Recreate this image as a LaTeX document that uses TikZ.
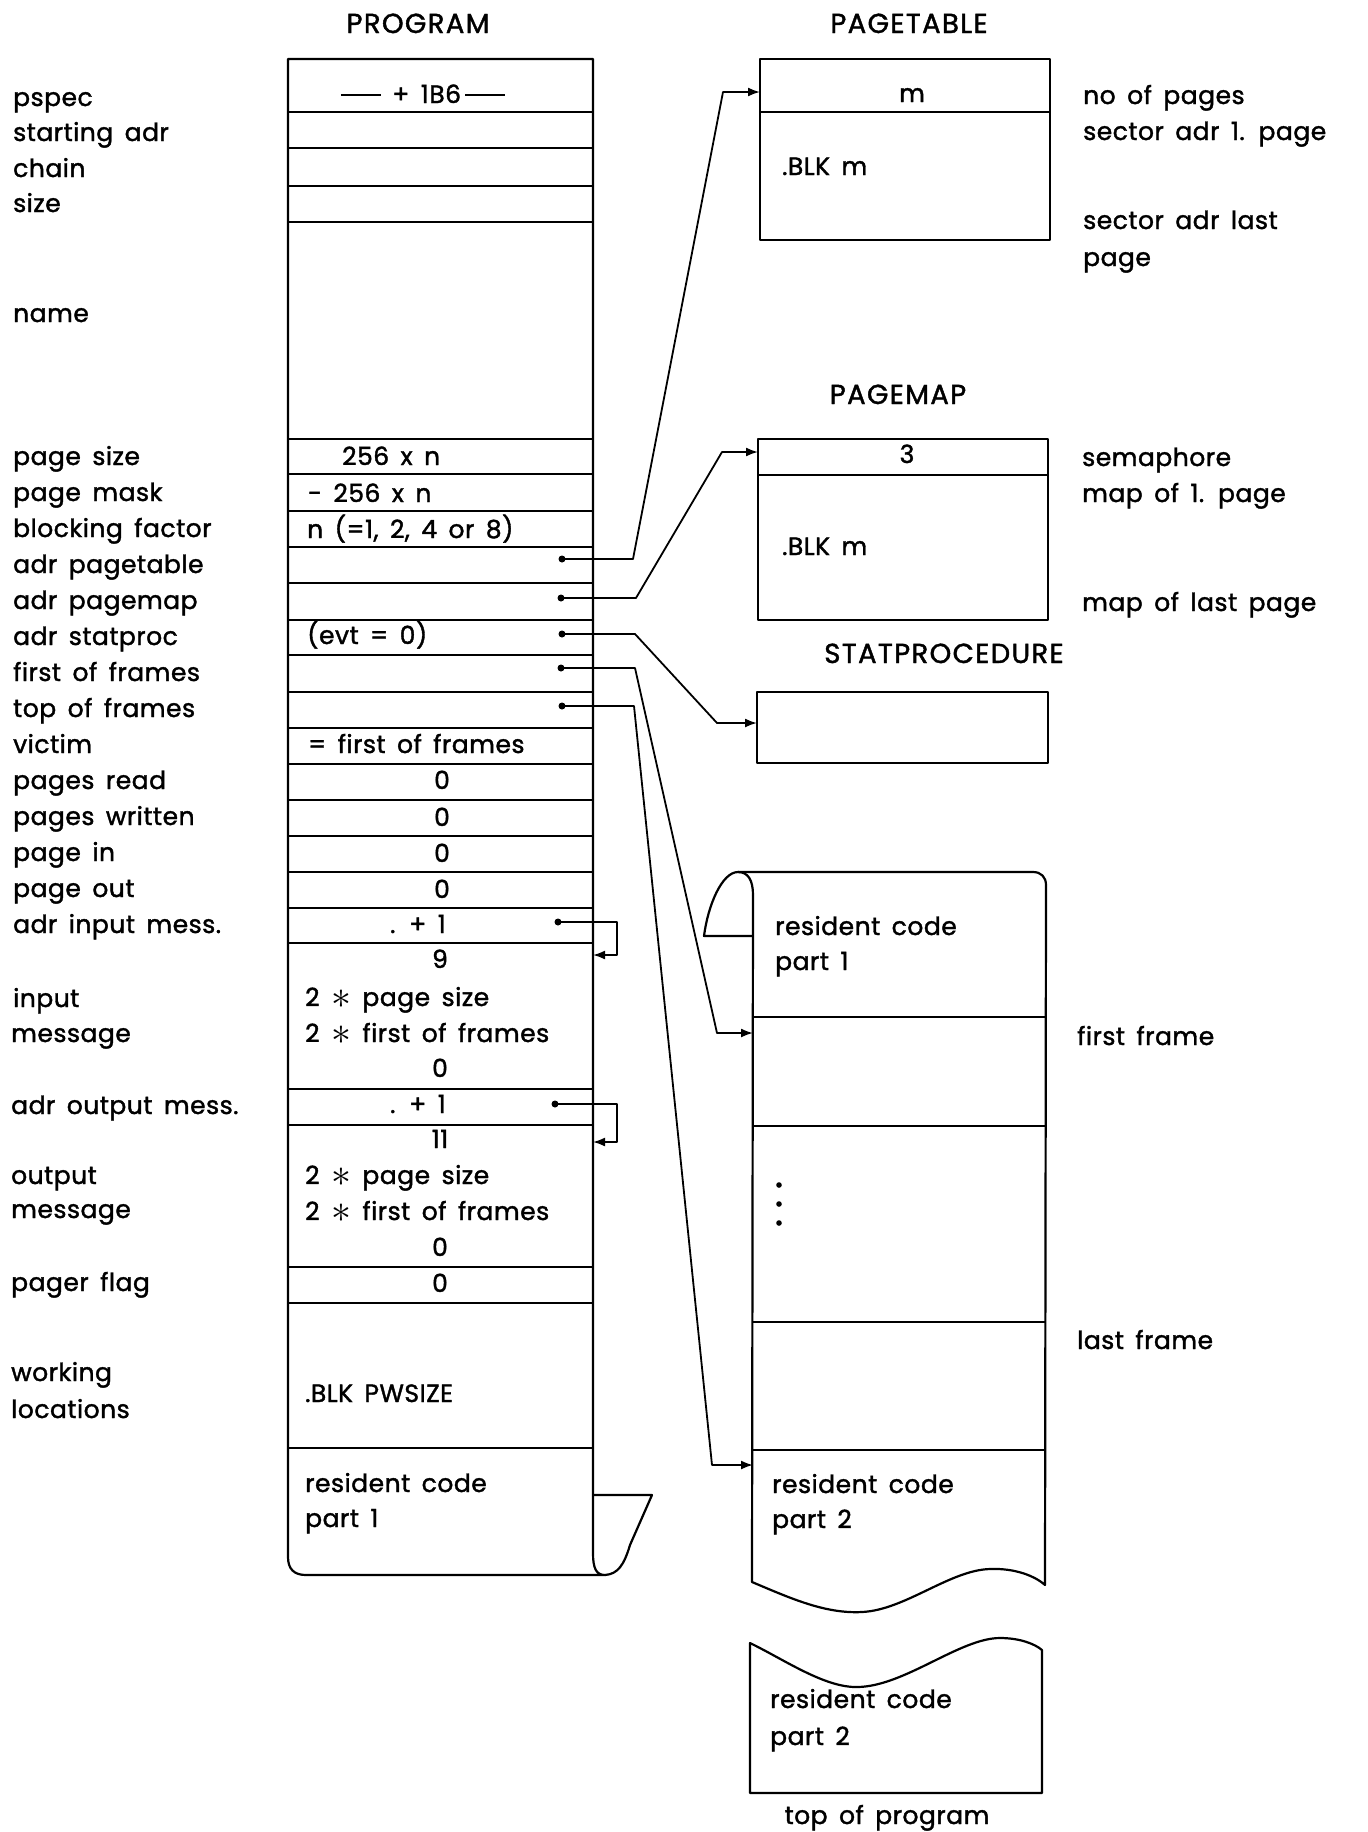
\documentclass[tikz,border=0pt]{standalone}
\usepackage{fontspec}
\usepackage{graphicx}
\setmainfont{Poppins}[WordSpace=1.6,LetterSpace=2,FakeBold=1.5]
\usetikzlibrary{arrows.meta,calc}
\newcommand\fs{\fontsize{25}{30}\selectfont}
\newcommand\hfs{\fontsize{27.5}{32}\selectfont\addfontfeature{LetterSpace=5}}
\newcommand\dashrule{\rule[0.3em]{40pt}{1.8pt}}
\newcommand\bigast{\smash{\raisebox{-2pt}{\scalebox{1.6}{$\ast$}}}}
\begin{document}
\begin{tikzpicture}[x=1pt,y=-1pt,
  ln/.style={line width=2.2pt, line join=round},
  rowline/.style={line width=1.9pt},
  lbl/.style={anchor=base west, inner sep=0pt, font=\fs},
  ctr/.style={anchor=base, inner sep=0pt, font=\fs},
  hdr/.style={anchor=base, inner sep=0pt, font=\hfs},
  dotnode/.style={circle, fill, inner sep=0pt, minimum size=7pt},
  conn/.style={line width=1.8pt, line join=round, -{Latex[length=12pt,width=9pt]}},
  selfconn/.style={line width=1.8pt, line join=round, -{Latex[length=12pt,width=9pt]}}]
\useasboundingbox (0,0) rectangle (1368,1832);

% ---------------- headers
\node[hdr] (hprog) at (418,33) {PROGRAM};
\node[hdr] (hptab) at (909,33) {PAGETABLE};
\node[hdr] (hpmap) at (898,404) {PAGEMAP};
\node[hdr] (hstat) at (944,663) {STATPROCEDURE};

% ---------------- program box
\draw[ln] (288,59) -- (593,59) -- (593,1553) .. controls (593,1568) and (596,1575) .. (605,1575)
  -- (306,1575) .. controls (294,1575) and (288,1569) .. (288,1557) -- cycle;
\draw[ln] (605,1575) .. controls (618,1574) and (624,1565) .. (630,1545) -- (652,1495) -- (593,1495);
\foreach \y in {112,148,186,222,439,474,511,547,583,620,655,692,728,764,800,836,872,908,943,1089,1125,1267,1303,1448}
  \draw[rowline] (288,\y) -- (593,\y);

% program contents
\node[ctr] (c1b6) at (423,103) {\dashrule\ + 1B6\,\dashrule};
\node[lbl] (cps) at (342,465) {256 x n};
\node[lbl] (cpm) at (308,502) {- 256 x n};
\node[lbl] (cbf) at (307,538) {n (=1, 2, 4 or 8)};
\node[lbl] (cevt) at (307,644) {(evt = 0)};
\node[lbl] (cvic) at (308,753) {= first of frames};
\node[ctr] (cpr) at (442,789) {0};
\node[ctr] (cpw) at (442,826) {0};
\node[ctr] (cpi) at (442,862) {0};
\node[ctr] (cpo) at (442,898) {0};
\node[ctr] (cim) at (418,933) {. + 1};
\node[ctr] (c9) at (440,968) {9};
\node[lbl] (ci1) at (305,1006) {2 \bigast\ page size};
\node[lbl] (ci2) at (305,1042) {2 \bigast\ first of frames};
\node[ctr] (ci3) at (440,1077) {0};
\node[ctr] (com) at (418,1113) {. + 1};
\node[ctr] (c11) at (440,1148) {11};
\node[lbl] (co1) at (305,1184) {2 \bigast\ page size};
\node[lbl] (co2) at (305,1220) {2 \bigast\ first of frames};
\node[ctr] (co3) at (440,1256) {0};
\node[ctr] (cpf) at (440,1292) {0};
\node[lbl] (cwl) at (305,1402) {.BLK PWSIZE};
\node[lbl] (crc1) at (305,1492) {resident code};
\node[lbl] (crc2) at (305,1527) {part 1};

% left labels
\node[lbl] (l1) at (13,106) {pspec};
\node[lbl] (l2) at (13,141) {starting adr};
\node[lbl] (l3) at (13,177) {chain};
\node[lbl] (l4) at (13,212) {size};
\node[lbl] (l5) at (13,322) {name};
\node[lbl] (l6) at (13,465) {page size};
\node[lbl] (l7) at (13,501) {page mask};
\node[lbl] (l8) at (13,537) {blocking factor};
\node[lbl] (l9) at (13,573) {adr pagetable};
\node[lbl] (l10) at (13,609) {adr pagemap};
\node[lbl] (l11) at (13,645) {adr statproc};
\node[lbl] (l12) at (13,681) {first of frames};
\node[lbl] (l13) at (13,717) {top of frames};
\node[lbl] (l14) at (13,753) {victim};
\node[lbl] (l15) at (13,789) {pages read};
\node[lbl] (l16) at (13,825) {pages written};
\node[lbl] (l17) at (13,861) {page in};
\node[lbl] (l18) at (13,897) {page out};
\node[lbl] (l19) at (13,933) {adr input mess.};
\node[lbl] (l20) at (13,1007) {input};
\node[lbl] (l21) at (11,1042) {message};
\node[lbl] (l22) at (11,1114) {adr output mess.};
\node[lbl] (l23) at (11,1184) {output};
\node[lbl] (l24) at (11,1218) {message};
\node[lbl] (l25) at (11,1291) {pager flag};
\node[lbl] (l26) at (11,1381) {working};
\node[lbl] (l27) at (11,1418) {locations};

% ---------------- pagetable
\draw[ln] (760,59) rectangle (1050,240);
\draw[rowline] (760,112) -- (1050,112);
\node[ctr] (tm) at (912,102) {m};
\node[lbl] (tblk) at (782,175) {.BLK m};
\node[lbl] (r1) at (1083,104) {no of pages};
\node[lbl] (r2) at (1083,140) {sector adr 1. page};
\node[lbl] (r3) at (1083,229) {sector adr last};
\node[lbl] (r4) at (1083,266) {page};

% ---------------- pagemap
\draw[ln] (758,439) rectangle (1048,620);
\draw[rowline] (758,475) -- (1048,475);
\node[ctr] (m3) at (907,463) {3};
\node[lbl] (mblk) at (782,555) {.BLK m};
\node[lbl] (r5) at (1082,466) {semaphore};
\node[lbl] (r6) at (1082,502) {map of 1. page};
\node[lbl] (r7) at (1082,611) {map of last page};

% ---------------- statprocedure
\draw[ln] (757,692) rectangle (1048,763);

% ---------------- frames area
\draw[ln] (738,872) -- (1033,872) .. controls (1041,872) and (1046,877) .. (1046,885) -- (1045,1585)
  .. controls (1035,1576) and (1015,1568) .. (990,1569)
  .. controls (950,1570) and (905,1610) .. (862,1612)
  .. controls (825,1614) and (790,1598) .. (752,1582) -- (753,895);
\draw[ln] (753,895) .. controls (753,880) and (748,872) .. (738,872) .. controls (722,872) and (708,905) .. (704,936) -- (753,936);
\foreach \y in {1017,1126,1322,1450}
  \draw[rowline] (753,\y) -- (1046,\y);
\node[lbl] (frc1) at (775,935) {resident code};
\node[lbl] (frc2) at (775,970) {part 1};
\foreach \y in {1185,1204,1223}
  \fill (779,\y) circle (2.8pt);
\node[lbl] (frc3) at (772,1493) {resident code};
\node[lbl] (frc4) at (772,1528) {part 2};
\node[lbl] (r8) at (1077,1045) {first frame};
\node[lbl] (r9) at (1077,1349) {last frame};

% lower box
\draw[ln] (750,1643) .. controls (785,1660) and (825,1688) .. (858,1687)
  .. controls (905,1686) and (960,1638) .. (1000,1638)
  .. controls (1020,1638) and (1035,1644) .. (1042,1650) -- (1042,1793) -- (750,1793) -- cycle;
\node[lbl] (brc1) at (770,1708) {resident code};
\node[lbl] (brc2) at (770,1745) {part 2};
\node[ctr] (btop) at (887,1824) {top of program};

% ---------------- connectors
\coordinate (ptIn) at (760,92);
\coordinate (pmIn) at (758,452);
\coordinate (spIn) at (757,723);
\coordinate (ffIn) at (753,1033);
\coordinate (tfIn) at (753,1465);
\coordinate (imIn) at (593,955);
\coordinate (omIn) at (593,1142);

\node[dotnode] (dpt) at (562,559) {};
\node[dotnode] (dpm) at (561,598) {};
\node[dotnode] (dsp) at (562,634) {};
\node[dotnode] (dff) at (561,668) {};
\node[dotnode] (dtf) at (562,706) {};
\node[dotnode] (dim) at (558,922) {};
\node[dotnode] (dom) at (555,1104) {};

\draw[conn] (dpt.center) -- (633,559) -- (723,92) -- (ptIn);
\draw[conn] (dpm.center) -- (636,598) -- (722,452) -- (pmIn);
\draw[conn] (dsp.center) -- (635,634) -- (717,723) -- (spIn);
\draw[conn] (dff.center) -- (635,668) -- (717,1033) -- (ffIn);
\draw[conn] (dtf.center) -- (634,706) -- (712,1465) -- (tfIn);
\draw[selfconn] (dim.center) -- (617,922) -- (617,955) -- (imIn);
\draw[selfconn] (dom.center) -- (617,1104) -- (617,1142) -- (omIn);
\end{tikzpicture}
\end{document}
